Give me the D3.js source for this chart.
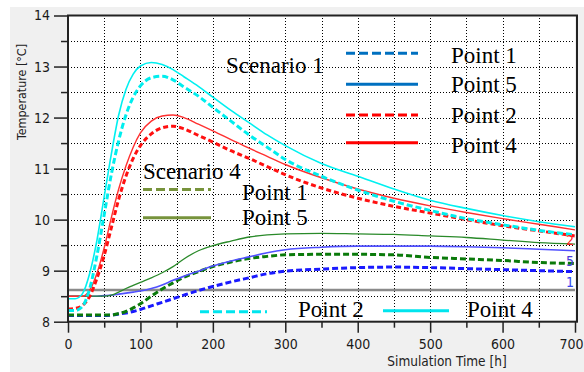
<!DOCTYPE html>
<html>
<head>
<meta charset="utf-8">
<script src="https://cdn.jsdelivr.net/npm/d3@7"></script>
<style>
  body { margin: 0; background: #fff; }
  .tick text { font-family: "DejaVu Sans Condensed", "DejaVu Sans", sans-serif; font-size: 14px; fill: #1a1a1a; }
  .tick line { stroke: #222; stroke-width: 1.5; }
  .leg { font-family: "Liberation Serif", "Times New Roman", serif; font-size: 23px; fill: #000; }
</style>
</head>
<body>
<script>
// sample times [h]
const times = [0, 10, 20, 30, 40, 50, 60, 70, 80, 90, 100, 115, 130, 145, 160, 180, 200, 225, 250, 275, 300, 350, 400, 450, 500, 550, 600, 650, 700];

// scenario 1 (chart colours cyan / red / blue), scenario 4 (green)
const cyanSolid = [8.45, 8.45, 8.55, 8.95, 9.6, 10.45, 11.3, 12.05, 12.55, 12.85, 13.01, 13.08, 13.04, 12.94, 12.8, 12.61, 12.4, 12.14, 11.9, 11.66, 11.45, 11.1, 10.85, 10.6, 10.38, 10.22, 10.08, 9.96, 9.86];
const cyanDashed = [8.22, 8.22, 8.3, 8.65, 9.3, 10.1, 10.9, 11.55, 12.05, 12.4, 12.62, 12.78, 12.81, 12.74, 12.6, 12.42, 12.2, 11.93, 11.66, 11.42, 11.18, 10.85, 10.58, 10.36, 10.18, 10.02, 9.9, 9.79, 9.7];
const redSolid = [8.5, 8.5, 8.5, 8.62, 8.95, 9.45, 10.05, 10.6, 11.05, 11.42, 11.7, 11.93, 12.03, 12.05, 12.0, 11.87, 11.74, 11.57, 11.4, 11.24, 11.08, 10.82, 10.6, 10.42, 10.27, 10.14, 10.02, 9.91, 9.8];
const redDashed = [8.25, 8.26, 8.32, 8.5, 8.85, 9.3, 9.85, 10.4, 10.85, 11.2, 11.45, 11.68, 11.8, 11.83, 11.78, 11.65, 11.52, 11.35, 11.2, 11.04, 10.88, 10.62, 10.42, 10.26, 10.13, 10.0, 9.88, 9.78, 9.68];
const greenSolid = [8.5, 8.5, 8.5, 8.5, 8.5, 8.5, 8.52, 8.58, 8.65, 8.71, 8.77, 8.86, 8.96, 9.08, 9.23, 9.39, 9.49, 9.58, 9.66, 9.7, 9.72, 9.73, 9.72, 9.71, 9.68, 9.65, 9.6, 9.55, 9.52];
const blueSolid = [8.5, 8.5, 8.5, 8.5, 8.5, 8.51, 8.52, 8.54, 8.56, 8.58, 8.6, 8.65, 8.72, 8.81, 8.89, 8.99, 9.09, 9.19, 9.27, 9.35, 9.41, 9.46, 9.48, 9.48, 9.48, 9.47, 9.45, 9.42, 9.39];
const greenDashed = [8.13, 8.13, 8.13, 8.13, 8.13, 8.13, 8.13, 8.16, 8.2, 8.27, 8.35, 8.5, 8.64, 8.76, 8.87, 8.98, 9.08, 9.17, 9.24, 9.28, 9.31, 9.32, 9.32, 9.31, 9.26, 9.23, 9.2, 9.16, 9.14];
const blueDashed = [8.12, 8.12, 8.12, 8.12, 8.12, 8.12, 8.13, 8.15, 8.17, 8.2, 8.24, 8.31, 8.38, 8.45, 8.52, 8.61, 8.69, 8.78, 8.86, 8.94, 8.99, 9.03, 9.06, 9.07, 9.06, 9.04, 9.02, 9.0, 8.98];
const refLevel = 8.62;

const xTicks = [0, 100, 200, 300, 400, 500, 600, 700];
const yTicks = [8, 9, 10, 11, 12, 13, 14];

const width = 584, height = 372;

const svg = d3.select("body").append("svg")
    .attr("width", width)
    .attr("height", height);

// grey figure background
svg.append("rect")
    .attr("x", 10).attr("y", 7)
    .attr("width", width - 10).attr("height", height - 7)
    .attr("fill", "#f0f0f0");

var x = d3.scaleLinear().domain([0, 700]).range([68, 575]);
var y = d3.scaleLinear().domain([8, 14]).range([321.7, 15.5]);

svg.append("rect")
    .attr("x", x(0)).attr("y", y(14))
    .attr("width", x(700) - x(0)).attr("height", y(8) - y(14))
    .attr("fill", "#fff");

// dotted grid
var px = v => Math.round(v) + 0.5;
svg.append("g").selectAll("line")
    .data(d3.range(50, 700, 50))
    .enter().append("line")
    .attr("x1", d => px(x(d))).attr("x2", d => px(x(d)))
    .attr("y1", y(8)).attr("y2", y(14))
    .attr("stroke", "#000").attr("stroke-dasharray", "1,2")
    .attr("shape-rendering", "crispEdges");
svg.append("g").selectAll("line")
    .data(d3.range(8.5, 14, 0.5))
    .enter().append("line")
    .attr("x1", x(0)).attr("x2", x(700))
    .attr("y1", d => px(y(d))).attr("y2", d => px(y(d)))
    .attr("stroke", "#000").attr("stroke-dasharray", "1,2")
    .attr("shape-rendering", "crispEdges");

// axes, major + minor ticks
var gy = svg.append("g").attr("transform", "translate(" + x(0) + ",0)")
    .call(d3.axisLeft(y).tickValues(yTicks).tickSize(14).tickPadding(4).tickFormat(d3.format("d")));
var gy2 = svg.append("g").attr("transform", "translate(" + x(0) + ",0)")
    .call(d3.axisLeft(y).tickValues(d3.range(8.5, 14, 1)).tickSize(7).tickFormat(""));
var gx = svg.append("g").attr("transform", "translate(0," + y(8) + ")")
    .call(d3.axisBottom(x).tickValues(xTicks).tickSize(11).tickPadding(6));
var gx2 = svg.append("g").attr("transform", "translate(0," + y(8) + ")")
    .call(d3.axisBottom(x).tickValues(d3.range(50, 700, 100)).tickSize(6).tickFormat(""));
[gy, gy2, gx, gx2].forEach(g => g.select(".domain").remove());
gx.selectAll(".tick text").filter(d => d === 700).attr("dx", "-4");

// reference line
svg.append("line")
    .attr("x1", x(0)).attr("x2", x(700))
    .attr("y1", y(refLevel)).attr("y2", y(refLevel))
    .attr("stroke", "#8a8a8a").attr("stroke-width", 2.5);

var line = d3.line()
    .x((d, i) => x(times[i]))
    .y(d => y(d))
    .curve(d3.curveMonotoneX);

const series = [
    { v: blueDashed, c: "#1a1aff", w: 3, dash: "6,3" },
    { v: greenDashed, c: "#0a7a0a", w: 3, dash: "6,3" },
    { v: blueSolid, c: "#5050ff", w: 1.6 },
    { v: greenSolid, c: "#2a8a2a", w: 1.3 },
    { v: redDashed, c: "#ff1010", w: 3, dash: "5,3" },
    { v: redSolid, c: "#ff3030", w: 1.4 },
    { v: cyanDashed, c: "#00eeee", w: 3, dash: "6,3" },
    { v: cyanSolid, c: "#00f0f0", w: 1.6 }
];

svg.append("g").selectAll("path")
    .data(series)
    .enter().append("path")
    .attr("d", d => line(d.v))
    .attr("fill", "none")
    .attr("stroke", d => d.c)
    .attr("stroke-width", d => d.w)
    .attr("stroke-dasharray", d => d.dash || null);

// plot frame
svg.append("rect")
    .attr("x", x(0)).attr("y", y(14))
    .attr("width", x(700) - x(0) + 2).attr("height", y(8) - y(14))
    .attr("fill", "none").attr("stroke", "#222").attr("stroke-width", 2);

// end labels
const endLabels = [
    { t: "2", v: 9.5, c: "#ff2020" },
    { t: "5", v: 9.1, c: "#4a3ad8" },
    { t: "1", v: 8.68, c: "#3344ee" }
];
svg.append("g").selectAll("text")
    .data(endLabels)
    .enter().append("text")
    .attr("x", x(700) - 9).attr("y", d => y(d.v))
    .attr("fill", d => d.c)
    .style("font-family", "DejaVu Sans Condensed, sans-serif")
    .style("font-size", "14px")
    .text(d => d.t);

// axis titles
svg.append("text")
    .attr("transform", "translate(26,92) rotate(-90)")
    .attr("text-anchor", "middle")
    .style("font-family", "DejaVu Sans Condensed, sans-serif")
    .style("font-size", "12.4px")
    .attr("fill", "#222")
    .text("Temperature [°C]");
svg.append("text")
    .attr("x", 447).attr("y", 366)
    .attr("text-anchor", "middle")
    .style("font-family", "DejaVu Sans Condensed, sans-serif")
    .style("font-size", "13.5px")
    .attr("fill", "#222")
    .text("Simulation Time [h]");

// legend
const legLines = [
    { x1: 346, x2: 418, y: 53.3, c: "#0070c0", dash: "9,4" },
    { x1: 346, x2: 418, y: 84.3, c: "#0070c0" },
    { x1: 346, x2: 418, y: 115, c: "#ff0000", dash: "9,4" },
    { x1: 346, x2: 418, y: 142.7, c: "#ff0000" },
    { x1: 143, x2: 211, y: 189.5, c: "#77933c", dash: "9,4" },
    { x1: 143, x2: 211, y: 217.7, c: "#77933c" },
    { x1: 200, x2: 267, y: 311.7, c: "#00e5ee", dash: "9,4" },
    { x1: 383, x2: 449, y: 310.7, c: "#00e5ee" }
];
svg.append("g").selectAll("line")
    .data(legLines)
    .enter().append("line")
    .attr("x1", d => d.x1).attr("x2", d => d.x2)
    .attr("y1", d => d.y).attr("y2", d => d.y)
    .attr("stroke", d => d.c).attr("stroke-width", 3)
    .attr("stroke-dasharray", d => d.dash || null);

const legTexts = [
    { t: "Scenario 1", x: 226, y: 73 },
    { t: "Point 1", x: 451, y: 63 },
    { t: "Point 5", x: 451, y: 92 },
    { t: "Point 2", x: 451, y: 123 },
    { t: "Point 4", x: 451, y: 153 },
    { t: "Scenario 4", x: 143, y: 179 },
    { t: "Point 1", x: 242, y: 200 },
    { t: "Point 5", x: 242, y: 225 },
    { t: "Point 2", x: 298, y: 317 },
    { t: "Point 4", x: 467, y: 317 }
];
svg.append("g").selectAll("text")
    .data(legTexts)
    .enter().append("text")
    .attr("class", "leg")
    .attr("x", d => d.x).attr("y", d => d.y)
    .text(d => d.t);
</script>
</body>
</html>
